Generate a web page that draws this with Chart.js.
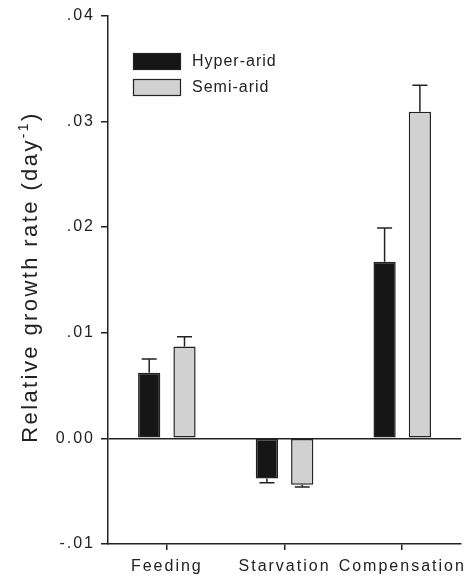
<!DOCTYPE html>
<html>
<head>
<meta charset="utf-8">
<script src="https://cdn.jsdelivr.net/npm/chart.js@4/dist/chart.umd.min.js"></script>
<style>
  html, body { margin: 0; padding: 0; background: #fff; }
  #wrap { width: 475px; height: 576px; }
</style>
</head>
<body>
<div id="wrap"><canvas id="grafico" width="475" height="576"></canvas></div>
<script>
// Dati
const categories = ["Feeding", "Starvation", "Compensation"];
const hyperArid = [0.0062, -0.0038, 0.0167];
const hyperAridErr = [0.0013, 0.0004, 0.0032];
const semiArid = [0.0087, -0.0044, 0.0309];
const semiAridErr = [0.0009, 0.0002, 0.0025];
const yMin = -0.01;
const yMax = 0.04;
const yStep = 0.01;

const FONT = "'Liberation Sans', Arial, sans-serif";
const INK = "#222";

// formato tick: .04, 0.00, -.01
function formatTick(v) {
  if (Math.abs(v) < 1e-9) return "0.00";
  return v.toFixed(2).replace(/^0\./, ".").replace(/^-0\./, "-.");
}

// barre di errore (solo verso l'esterno)
const errorBars = {
  id: "errorBars",
  afterDatasetsDraw(chart) {
    const ctx = chart.ctx;
    const y = chart.scales.y;
    chart.data.datasets.forEach((ds, i) => {
      const meta = chart.getDatasetMeta(i);
      meta.data.forEach((bar, j) => {
        const v = ds.data[j];
        const e = ds.errors[j];
        const end = y.getPixelForValue(v + (v >= 0 ? e : -e));
        ctx.save();
        ctx.strokeStyle = INK;
        ctx.lineWidth = 1.5;
        ctx.beginPath();
        ctx.moveTo(bar.x, bar.y);
        ctx.lineTo(bar.x, end);
        ctx.moveTo(bar.x - 7.5, end);
        ctx.lineTo(bar.x + 7.5, end);
        ctx.stroke();
        ctx.restore();
      });
    });
  },
};

// legenda e titolo asse y disegnati a mano
const extras = {
  id: "extras",
  beforeUpdate(chart) { chart.ctx.letterSpacing = "2px"; },
  beforeDraw(chart) { chart.ctx.letterSpacing = "2px"; },
  afterDraw(chart) {
    const ctx = chart.ctx;
    ctx.save();
    // legenda
    ctx.font = "16px " + FONT;
    ctx.letterSpacing = "1px";
    ctx.textBaseline = "middle";
    ctx.textAlign = "left";
    chart.data.datasets.forEach((ds, i) => {
      const top = 53 + i * 26;
      ctx.fillStyle = ds.backgroundColor;
      ctx.fillRect(133, top, 48, 17);
      ctx.strokeStyle = INK;
      ctx.lineWidth = 1.2;
      ctx.strokeRect(133.5, top + 0.5, 47, 16);
      ctx.fillStyle = INK;
      ctx.fillText(ds.label, 192, top + 9);
    });
    // titolo asse y con apice
    ctx.translate(37, 277);
    ctx.rotate(-Math.PI / 2);
    ctx.letterSpacing = "2.4px";
    ctx.textBaseline = "alphabetic";
    const main = "Relative growth rate (day";
    const sup = "-1";
    const tail = ")";
    ctx.font = "22px " + FONT;
    const w1 = ctx.measureText(main).width;
    const w3 = ctx.measureText(tail).width;
    ctx.font = "14px " + FONT;
    const w2 = ctx.measureText(sup).width;
    let x = -(w1 + w2 + w3) / 2;
    ctx.fillStyle = INK;
    ctx.font = "22px " + FONT;
    ctx.fillText(main, x, 0);
    x += w1;
    ctx.font = "14px " + FONT;
    ctx.fillText(sup, x, -9);
    x += w2;
    ctx.font = "22px " + FONT;
    ctx.fillText(tail, x, 0);
    ctx.restore();
  },
};

const ctx = document.getElementById("grafico").getContext("2d");

const chart = new Chart(ctx, {
  type: "bar",
  data: {
    labels: categories,
    datasets: [
      {
        label: "Hyper-arid",
        data: hyperArid,
        errors: hyperAridErr,
        backgroundColor: "#161616",
        borderColor: INK,
        borderWidth: 1.5,
        borderSkipped: false,
      },
      {
        label: "Semi-arid",
        data: semiArid,
        errors: semiAridErr,
        backgroundColor: "#d0d1d0",
        borderColor: INK,
        borderWidth: 1.5,
        borderSkipped: false,
      },
    ],
  },
  options: {
    responsive: false,
    animation: false,
    layout: { padding: { left: 0, top: 15, right: 13, bottom: 0 } },
    datasets: {
      bar: { categoryPercentage: 0.6, barPercentage: 0.63 },
    },
    plugins: {
      legend: { display: false },
      tooltip: { enabled: false },
    },
    scales: {
      x: {
        grid: {
          offset: false,
          drawOnChartArea: false,
          drawTicks: true,
          tickLength: 6,
          color: INK,
          tickColor: INK,
          lineWidth: 1.5,
        },
        border: { display: true, color: INK, width: 1.5 },
        ticks: {
          color: INK,
          font: { family: FONT, size: 16 },
          padding: 7,
          maxRotation: 0,
          autoSkip: false,
        },
        afterFit(scale) { scale.height = 32; },
      },
      y: {
        min: yMin,
        max: yMax,
        grid: {
          drawOnChartArea: true,
          drawTicks: true,
          tickLength: 7,
          color: (c) => (c.tick && Math.abs(c.tick.value) < 1e-9 ? INK : "rgba(0,0,0,0)"),
          tickColor: INK,
          lineWidth: 1.5,
        },
        border: { display: true, color: INK, width: 1.5 },
        ticks: {
          stepSize: yStep,
          color: INK,
          font: { family: FONT, size: 16 },
          padding: 6,
          callback: (v) => formatTick(v),
        },
        afterFit(scale) { scale.width = 108; },
      },
    },
  },
  plugins: [errorBars, extras],
});
</script>
</body>
</html>
